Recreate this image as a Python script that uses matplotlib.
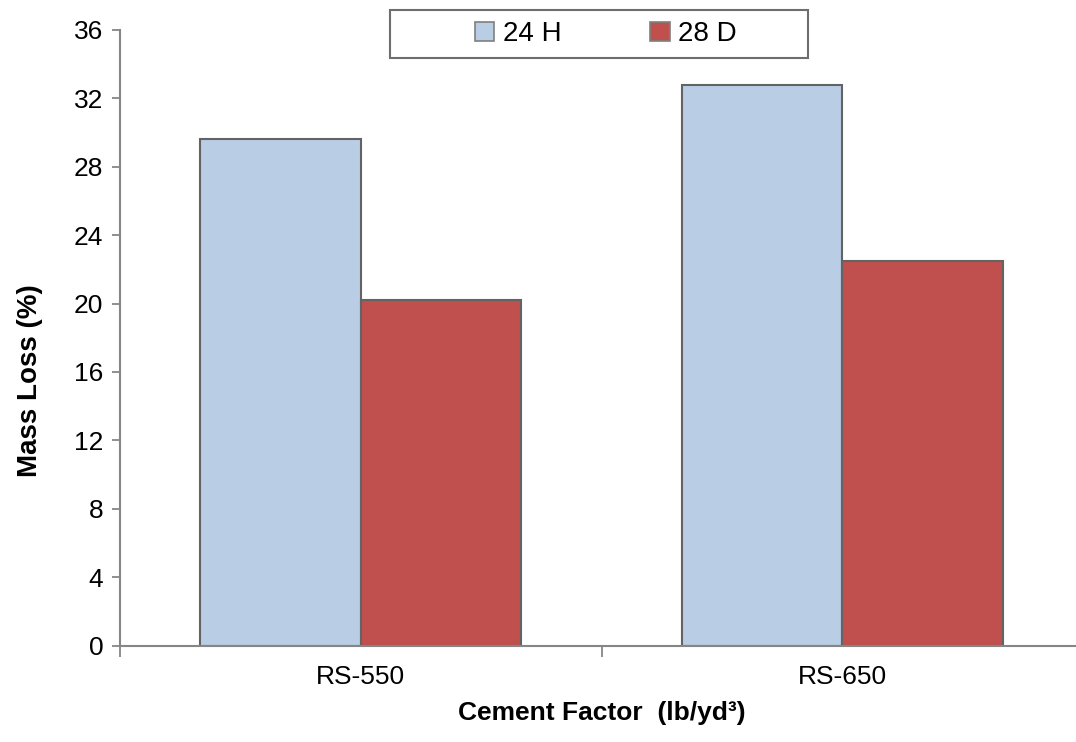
import numpy as np
import matplotlib
matplotlib.use("Agg")
import matplotlib.pyplot as plt
from matplotlib.patches import Rectangle

plt.rcParams['font.family'] = ['Liberation Sans', 'DejaVu Sans']

categories = ['RS-550', 'RS-650']
series_names = ['24 H', '28 D']
loss_24h = [29.6, 32.8]
loss_28d = [20.2, 22.5]
yticks = [0, 4, 8, 12, 16, 20, 24, 28, 32, 36]

fig = plt.figure(figsize=(10.76, 7.42), dpi=100)
ax = fig.add_axes([0.1115, 0.130, 0.8953, 0.8296])

x = np.arange(len(categories))
w = 0.333
grey = '#868686'
ax.bar(x - w/2, loss_24h, w, color='#B9CDE5', edgecolor='#636363', linewidth=1.5, label=series_names[0])
ax.bar(x + w/2, loss_28d, w, color='#C0504D', edgecolor='#636363', linewidth=1.5, label=series_names[1])

ax.set_xlim(-0.5, 1.5)
ax.set_ylim(0, 36)
ax.set_yticks(yticks)
ax.set_xticks(x)
ax.set_xticklabels(categories)
ax.set_xticks([-0.5, 0.5, 1.5], minor=True)
ax.tick_params(axis='x', which='major', length=0, pad=14, labelsize=19)
ax.tick_params(axis='x', which='minor', length=8, color=grey, width=1.3, direction='out')
ax.tick_params(axis='y', length=6, color=grey, width=1.3, direction='out', pad=6, labelsize=19)

for s in ['top', 'right']:
    ax.spines[s].set_visible(False)
for s in ['left', 'bottom']:
    ax.spines[s].set_color(grey)
    ax.spines[s].set_linewidth(1.5)

ax.set_ylabel('Mass Loss (%)', fontsize=20, fontweight='bold')
ax.yaxis.set_label_coords(-0.08, 0.43)
ax.set_xlabel('Cement Factor  (lb/yd³)', fontsize=19, fontweight='bold', labelpad=9)

# legend frame drawn separately (wide box like the reference)
fig.patches.append(Rectangle((0.3625, 0.9218), 0.3885, 0.0647, transform=fig.transFigure,
                             facecolor='white', edgecolor='#6e6e6e', linewidth=1.5, zorder=5))
leg = fig.legend(loc='center', bbox_to_anchor=(0.563, 0.954), ncol=2, fontsize=20,
                 frameon=False, handlelength=0.7, handleheight=0.7, handletextpad=0.3,
                 columnspacing=3.2, borderpad=0, borderaxespad=0)
leg.set_zorder(6)
for h in leg.legend_handles:
    h.set_edgecolor('#7f7f7f')
    h.set_linewidth(1.2)

fig.savefig('out.png', dpi=100)
